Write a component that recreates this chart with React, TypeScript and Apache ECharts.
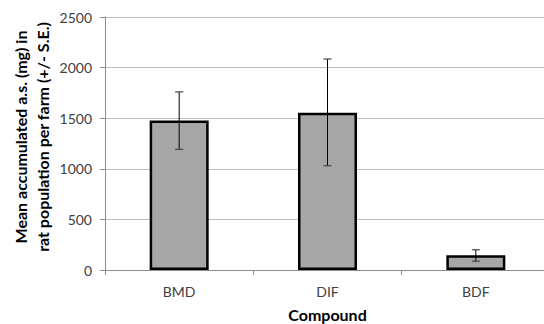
import React, { useEffect, useRef } from "react";
import * as echarts from "echarts";

const categories = ["BMD", "DIF", "BDF"];
const meanValues = [1478, 1555, 145];
const upperValues = [1760, 2085, 200];
const lowerValues = [1192, 1030, 87];
const yTicks = [0, 500, 1000, 1500, 2000, 2500];

const FONT = "Lato, 'Open Sans', sans-serif";

export default function App() {
  const ref = useRef<HTMLDivElement>(null);
  useEffect(() => {
    if (!ref.current) return;
    const chart = echarts.init(ref.current, null, { renderer: "svg" });
    const errData = categories.map((c, i) => [i, lowerValues[i], upperValues[i]]);
    chart.setOption({
      animation: false,
      grid: { left: 105, top: 17, width: 445, height: 253, containLabel: false, outerBoundsMode: "none" },
      xAxis: {
        type: "category",
        data: categories,
        axisLine: { lineStyle: { color: "#8c8c8c", width: 1 } },
        axisTick: { show: true, length: 5, lineStyle: { color: "#8c8c8c" } },
        axisLabel: { color: "#404040", fontFamily: FONT, fontSize: 14, margin: 14 },
        name: "Compound",
        nameLocation: "middle",
        nameGap: 36,
        nameTextStyle: { fontFamily: FONT, fontSize: 16, lineHeight: 16, fontWeight: "bold", color: "#000" },
      },
      yAxis: {
        type: "value",
        min: yTicks[0],
        max: yTicks[yTicks.length - 1],
        interval: 500,
        axisLine: { show: true, lineStyle: { color: "#8c8c8c", width: 1 } },
        axisTick: { show: true, length: 5, lineStyle: { color: "#8c8c8c" } },
        axisLabel: {
          color: "#404040",
          fontFamily: FONT,
          fontSize: 14,
          margin: 13,
          formatter: (v: number) => String(v),
        },
        splitLine: { show: true, lineStyle: { color: "#bdbdbd", width: 1 } },
      },
      graphic: [
        {
          type: "text",
          x: 31,
          y: 137,
          rotation: Math.PI / 2,
          style: {
            text: "Mean accumulated a.s. (mg) in\nrat population per farm (+/- S.E.)",
            fontFamily: FONT,
            fontSize: 16,
            fontWeight: "bold",
            fill: "#000",
            align: "center",
            verticalAlign: "middle",
            lineHeight: 22,
          },
        },
      ],
      series: [
        {
          type: "bar",
          data: meanValues,
          barWidth: 59,
          itemStyle: { color: "#a6a6a6", borderColor: "#000", borderWidth: 2.5 },
        },
        {
          type: "custom",
          data: errData,
          z: 10,
          renderItem: (params: any, api: any) => {
            const x = api.value(0);
            const lo = api.coord([x, api.value(1)]);
            const hi = api.coord([x, api.value(2)]);
            const half = 4;
            return {
              type: "group",
              children: [
                { type: "line", shape: { x1: lo[0], y1: lo[1], x2: hi[0], y2: hi[1] }, style: { stroke: "#000", lineWidth: 1 } },
                { type: "line", shape: { x1: lo[0] - half, y1: lo[1], x2: lo[0] + half, y2: lo[1] }, style: { stroke: "#444", lineWidth: 1.2 } },
                { type: "line", shape: { x1: hi[0] - half, y1: hi[1], x2: hi[0] + half, y2: hi[1] }, style: { stroke: "#444", lineWidth: 1.2 } },
              ],
            };
          },
        },
      ],
    });
    return () => chart.dispose();
  }, []);
  return <div ref={ref} style={{ width: 544, height: 324, position: "absolute", left: 0, top: 0 }} />;
}
